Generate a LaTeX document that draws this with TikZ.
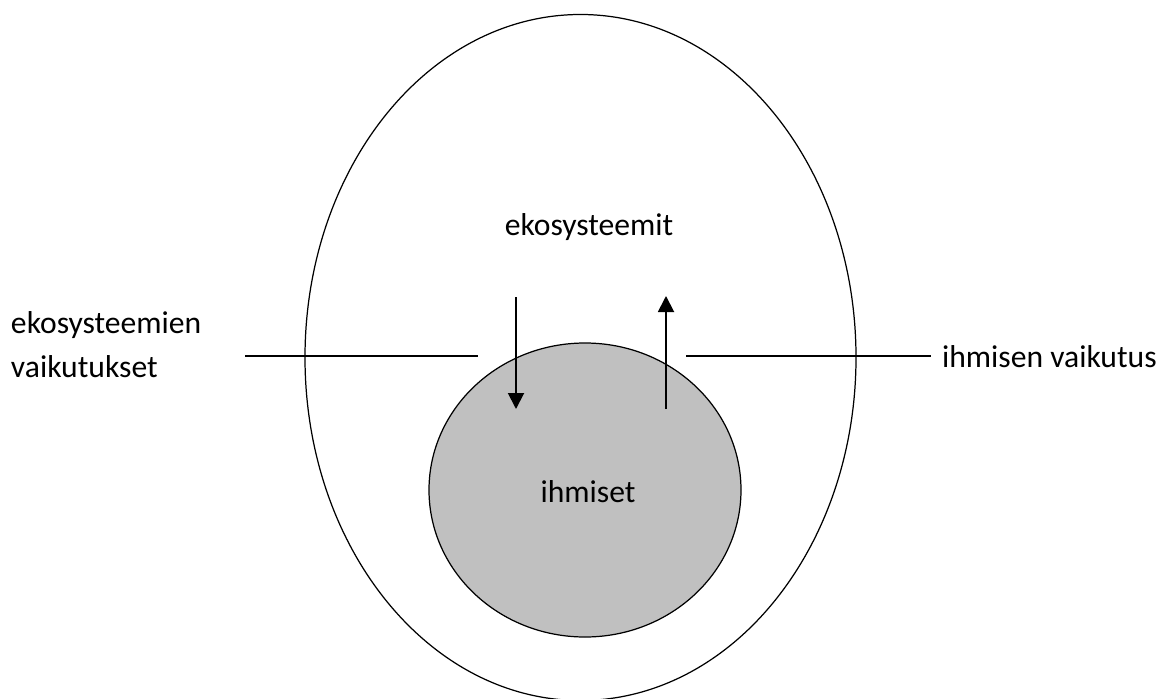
\documentclass[tikz,border=0pt]{standalone}
\usepackage{fontspec}
\setmainfont{Carlito}
\usetikzlibrary{shapes.geometric,arrows.meta}

\begin{document}
\begin{tikzpicture}[x=0.2mm, y=0.2mm]
\tikzset{every node/.append style={inner sep=0pt, outer sep=0pt, font=\fontsize{18}{25}\selectfont},
  oval/.style={ellipse, draw=black, line width=0.7pt},
  flow/.style={line width=1.1pt, -{Triangle[length=3.2mm,width=3.2mm]}}}
\useasboundingbox (0,0) rectangle (1162,-698);
\node [oval, minimum width=11.02cm, minimum height=13.72cm] (eko) at (580.5,-357.5) {};
\node [oval, fill={rgb,255:red,192;green,192;blue,192}, minimum width=6.24cm, minimum height=5.88cm] (ihm) at (585,-490) {};
\node (ekotxt) at (589,-227) {ekosysteemit};
\node (ihmtxt) at (588,-492) {ihmiset};
\node [anchor=west, align=left] (vasen) at (11,-345) {ekosysteemien\\vaikutukset};
\node [anchor=west] (oikea) at (942,-357) {ihmisen vaikutus};
\coordinate (v1) at (245,-356);
\coordinate (v2) at (478,-356);
\coordinate (o1) at (686,-356);
\coordinate (o2) at (931,-356);
\draw [line width=0.7pt] (v1) -- (v2);
\draw [line width=0.7pt] (o1) -- (o2);
\coordinate (alas1) at (516,-297);
\coordinate (alas2) at (516,-409);
\coordinate (ylos1) at (666,-409);
\coordinate (ylos2) at (666,-296);
\draw [flow] (alas1) -- (alas2);
\draw [flow] (ylos1) -- (ylos2);
\end{tikzpicture}
\end{document}
